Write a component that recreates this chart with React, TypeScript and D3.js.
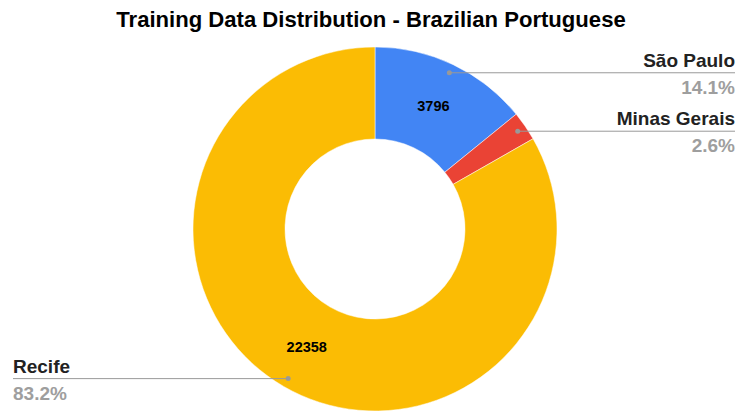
import React from "react";
import * as d3 from "d3";

const regions = ["São Paulo", "Minas Gerais", "Recife"];
const counts = [3796, 700, 22358];
const colors = ["#4285f4", "#ea4335", "#fbbc04"];
const percentLabels = ["14.1%", "2.6%", "83.2%"];
const title = "Training Data Distribution - Brazilian Portuguese";

const W = 741;
const H = 412;
const cx = 375;
const cy = 229;
const outerR = 182;
const innerR = 90;
const labelR = 173;

export default function App() {
  const pie = d3
    .pie<number>()
    .sort(null)
    .value((d) => d);
  const arcs = pie(counts);
  const arc = d3.arc<d3.PieArcDatum<number>>().innerRadius(innerR).outerRadius(outerR);
  const font = "'Liberation Sans', Arial, sans-serif";

  return (
    <svg
      width={W}
      height={H}
      style={{ position: "absolute", left: 0, top: 0, background: "#fff" }}
      fontFamily={font}
    >
      <text x={371} y={27} textAnchor="middle" fontSize={22.1} fontWeight="bold" fill="#000">
        {title}
      </text>
      <g transform={`translate(${cx},${cy})`}>
        {arcs.map((a, i) => (
          <path key={i} d={arc(a) || ""} fill={colors[i]} stroke="#fff" strokeWidth={0.5} />
        ))}
        {arcs.map((a, i) => {
          if (i === 1) return null;
          const [x, y] = arc.centroid(a);
          return (
            <text key={"v" + i} x={x} y={y + 5} textAnchor="middle" fontSize={14.5} fontWeight="bold" fill="#000">
              {counts[i]}
            </text>
          );
        })}
      </g>
      {arcs.map((a, i) => {
        const mid = (a.startAngle + a.endAngle) / 2;
        const px = cx + labelR * Math.sin(mid);
        const py = cy - labelR * Math.cos(mid);
        const right = Math.sin(mid) > 0;
        const lineEnd = right ? 735 : 13;
        return (
          <g key={"l" + i}>
            <line x1={px} y1={py} x2={lineEnd} y2={py} stroke="#999" strokeWidth={1} />
            <circle cx={px} cy={py} r={2.5} fill="#999" />
            <text
              x={lineEnd}
              y={py - 6}
              textAnchor={right ? "end" : "start"}
              fontSize={19}
              fontWeight="bold"
              fill="#222"
            >
              {regions[i]}
            </text>
            <text
              x={lineEnd}
              y={py + 21}
              textAnchor={right ? "end" : "start"}
              fontSize={19}
              fontWeight="bold"
              fill="#9e9e9e"
            >
              {percentLabels[i]}
            </text>
          </g>
        );
      })}
    </svg>
  );
}
